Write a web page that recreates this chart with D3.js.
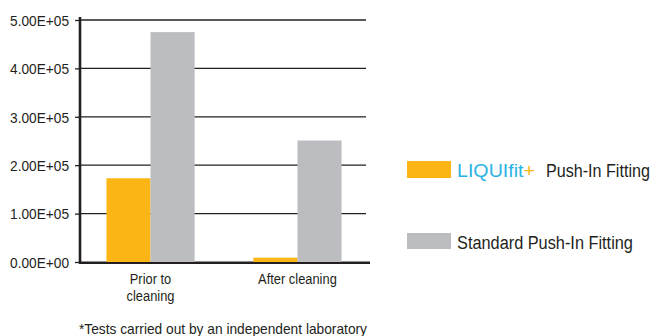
<!DOCTYPE html>
<html>
<head>
<meta charset="utf-8">
<script src="https://cdn.jsdelivr.net/npm/d3@7/dist/d3.min.js"></script>
<style>
  html, body { margin: 0; padding: 0; background: #fff; }
  svg { display: block; }
  text { font-family: "Liberation Sans", Arial, sans-serif; fill: #231f20; }
</style>
</head>
<body>
<script>
// Bacterial count per fitting type, before and after cleaning
const categories = [["Prior to", "cleaning"], ["After cleaning"]];
const seriesNames = ["LIQUIfit+", "Standard Push-In Fitting"];
const liquifitValues = [173000, 9000];
const standardValues = [475000, 251000];
const yTicks = [0, 100000, 200000, 300000, 400000, 500000];
const yTickLabels = ["0.00E+00", "1.00E+05", "2.00E+05", "3.00E+05", "4.00E+05", "5.00E+05"];
const footnote = "*Tests carried out by an independent laboratory";

const W = 653, H = 336;
const orange = "#fbb616", grey = "#bcbdc0", cyan = "#2bb3e6", ink = "#231f20";

const svg = d3.select("body").append("svg").attr("width", W).attr("height", H);

// squeeze text horizontally to a condensed look
function condense(sel, k) {
  sel.each(function () {
    const len = this.getComputedTextLength();
    d3.select(this).attr("textLength", len * k).attr("lengthAdjust", "spacingAndGlyphs");
  });
}

// place a text at (px, py) and scale it horizontally so it spans `width`
function fitText(g, px, py, size, width) {
  const t = g.append("text").attr("font-size", size);
  return {
    t,
    fit() {
      const len = t.node().getComputedTextLength();
      t.attr("transform", `translate(${px},${py}) scale(${width / len},1)`);
    }
  };
}

const x = d3.scaleBand().domain(d3.range(categories.length)).range([80, 368]).paddingInner(0.4).paddingOuter(0.18);
const y = d3.scaleLinear().domain([0, 500000]).range([262, 20]);
const sub = d3.scaleBand().domain([0, 1]).range([0, x.bandwidth()]);

// gridlines
svg.append("g").selectAll("line").data(yTicks.filter(d => d > 0)).join("line")
  .attr("x1", 80).attr("x2", 366)
  .attr("y1", d => y(d)).attr("y2", d => y(d))
  .attr("stroke", ink).attr("stroke-width", 1.3);

// y axis with scientific labels
const yAxis = d3.axisLeft(y).tickValues(yTicks).tickSize(5).tickPadding(5)
  .tickFormat((d, i) => yTickLabels[i]);
const ga = svg.append("g").attr("transform", "translate(80,0)").call(yAxis);
ga.select(".domain").remove();
ga.selectAll(".tick line").attr("stroke", ink).attr("stroke-width", 1.3);
ga.selectAll(".tick text")
  .attr("font-size", 14.5).attr("fill", ink)
  .style("font-family", '"Liberation Sans", Arial, sans-serif')
  .attr("x", 0).attr("dy", "0.36em")
  .each(function () {
    const len = this.getComputedTextLength();
    d3.select(this).attr("transform", `translate(-11,0) scale(${59 / len},1)`);
  });

// axis lines
svg.append("line").attr("x1", 80).attr("x2", 80).attr("y1", 17).attr("y2", 263.5)
  .attr("stroke", ink).attr("stroke-width", 2.6);
svg.append("line").attr("x1", 79).attr("x2", 370).attr("y1", y(0) + 0.8).attr("y2", y(0) + 0.8)
  .attr("stroke", ink).attr("stroke-width", 2.4);

// bars
const groups = svg.append("g").selectAll("g").data(categories).join("g")
  .attr("transform", (d, i) => `translate(${x(i)},0)`);
groups.append("rect")
  .attr("x", sub(0)).attr("width", sub.bandwidth())
  .attr("y", (d, i) => y(liquifitValues[i]))
  .attr("height", (d, i) => y(0) - y(liquifitValues[i]))
  .attr("fill", orange);
groups.append("rect")
  .attr("x", sub(1)).attr("width", sub.bandwidth())
  .attr("y", (d, i) => y(standardValues[i]))
  .attr("height", (d, i) => y(0) - y(standardValues[i]))
  .attr("fill", grey);

// category labels
const catTspans = groups.append("text")
  .attr("x", x.bandwidth() / 2).attr("y", 284)
  .attr("text-anchor", "middle").attr("font-size", 15.5)
  .selectAll("tspan").data(d => d).join("tspan")
  .attr("x", x.bandwidth() / 2).attr("dy", (d, i) => i ? 16.5 : 0)
  .text(d => d);
condense(catTspans, 0.83);

// footnote
const fn = svg.append("text").attr("x", 79).attr("y", 334).attr("font-size", 15).text(footnote);
fn.attr("textLength", 288).attr("lengthAdjust", "spacingAndGlyphs");

// legend
const lg = svg.append("g");
lg.append("rect").attr("x", 407).attr("y", 161).attr("width", 44).attr("height", 17).attr("fill", orange);
const brand = fitText(lg, 457, 177, 18, 78);
brand.t.append("tspan").style("fill", cyan).text("LIQUIfit");
brand.t.append("tspan").style("fill", orange).text("+");
brand.fit();
const push = fitText(lg, 546, 177, 18, 104);
push.t.text("Push-In Fitting");
push.fit();
lg.append("rect").attr("x", 407).attr("y", 233).attr("width", 44).attr("height", 16).attr("fill", grey);
const std = fitText(lg, 457, 249, 18, 176);
std.t.text(seriesNames[1]);
std.fit();
</script>
</body>
</html>
